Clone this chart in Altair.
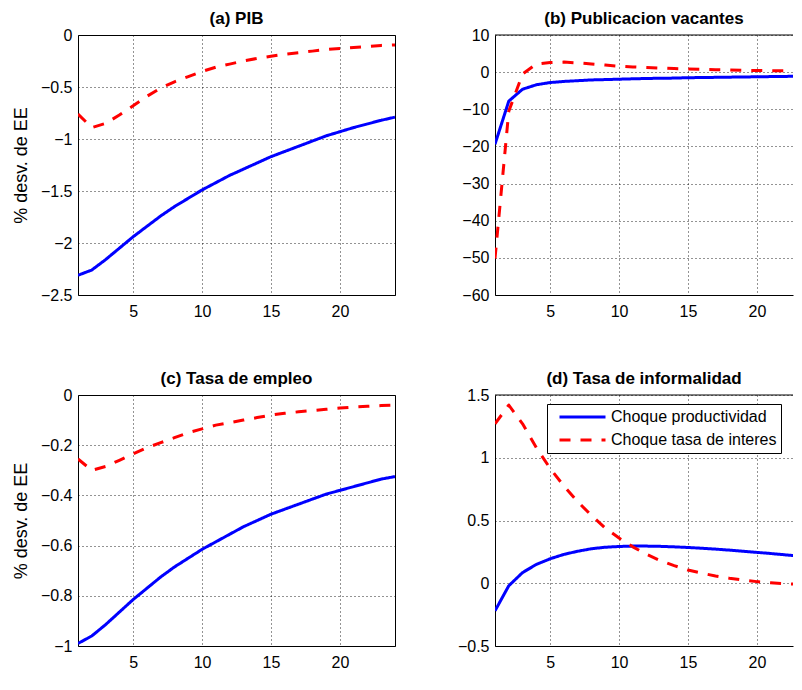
import altair as alt
import pandas as pd

FONT = "Liberation Sans"

periodos = list(range(1, 25))
series = ["Choque productividad", "Choque tasa de interes"]
colores = ["#0000ff", "#ff0000"]
dashes = [[1, 0], [11, 10]]

# (a) PIB
pib_prod = [-2.31, -2.26, -2.16, -2.05, -1.94, -1.84, -1.74, -1.65, -1.57, -1.49,
            -1.42, -1.35, -1.29, -1.23, -1.17, -1.12, -1.07, -1.02, -0.97, -0.93,
            -0.89, -0.855, -0.82, -0.79]
pib_tasa = [-0.76, -0.89, -0.85, -0.77, -0.68, -0.59, -0.51, -0.45, -0.40, -0.35,
            -0.31, -0.28, -0.25, -0.225, -0.205, -0.185, -0.17, -0.155, -0.14, -0.13,
            -0.12, -0.11, -0.10, -0.095]

# (b) Publicacion vacantes
vac_prod = [-19.4, -7.8, -4.6, -3.4, -2.8, -2.5, -2.3, -2.1, -2.0, -1.9,
            -1.8, -1.7, -1.65, -1.6, -1.5, -1.45, -1.4, -1.35, -1.3, -1.25,
            -1.2, -1.15, -1.1, -1.05]
vac_tasa = [-50.2, -10.5, -0.5, 2.2, 2.6, 2.7, 2.5, 2.2, 1.9, 1.6,
            1.4, 1.25, 1.1, 0.95, 0.85, 0.75, 0.65, 0.6, 0.5, 0.45,
            0.4, 0.35, 0.3, 0.25]

# (c) Tasa de empleo
emp_prod = [-0.99, -0.96, -0.915, -0.865, -0.815, -0.77, -0.725, -0.685, -0.65, -0.615,
            -0.585, -0.555, -0.525, -0.50, -0.475, -0.455, -0.435, -0.415, -0.395, -0.38,
            -0.365, -0.35, -0.335, -0.325]
emp_tasa = [-0.255, -0.30, -0.285, -0.26, -0.235, -0.21, -0.19, -0.17, -0.15, -0.135,
            -0.12, -0.11, -0.10, -0.09, -0.08, -0.073, -0.067, -0.062, -0.057, -0.052,
            -0.048, -0.045, -0.042, -0.04]

# (d) Tasa de informalidad
inf_prod = [-0.22, -0.02, 0.085, 0.15, 0.195, 0.23, 0.255, 0.275, 0.287, 0.293,
            0.296, 0.296, 0.294, 0.29, 0.285, 0.279, 0.272, 0.264, 0.255, 0.246,
            0.237, 0.227, 0.217, 0.205]
inf_tasa = [1.27, 1.42, 1.27, 1.08, 0.915, 0.775, 0.65, 0.54, 0.44, 0.36,
            0.29, 0.23, 0.18, 0.14, 0.105, 0.08, 0.058, 0.04, 0.025, 0.013,
            0.004, -0.003, -0.009, -0.014]

x_ticks = [5, 10, 15, 20]
y_ticks_a = [-2.5, -2, -1.5, -1, -0.5, 0]
y_ticks_b = [-60, -50, -40, -30, -20, -10, 0, 10]
y_ticks_c = [-1, -0.8, -0.6, -0.4, -0.2, 0]
y_ticks_d = [-0.5, 0, 0.5, 1, 1.5]

H_TOP = 260
H_BOTTOM = 251
W_LEFT = 317
PX_PER_UNIT = W_LEFT / 23.0
W_RIGHT = 298
XMAX_RIGHT = 1 + W_RIGHT / PX_PER_UNIT


def panel(title, prod, tasa, ydom, yvals, width, height, xmax, ytitle, legend, cut):
    n = len(periodos)
    df = pd.DataFrame({
        "t": periodos + periodos,
        "v": prod + tasa,
        "serie": [series[0]] * n + [series[1]] * n,
    })
    xaxis = alt.Axis(values=x_ticks, title=None, format="d", domain=cut,
                     labelPadding=8, ticks=False, grid=True)
    ykw = dict(values=yvals, format="~r", domain=cut, labelPadding=6,
               ticks=False, grid=True)
    if ytitle:
        yaxis = alt.Axis(title=ytitle, titleFontSize=18, titleFontWeight="normal",
                         titlePadding=10, **ykw)
    else:
        yaxis = alt.Axis(title=None, **ykw)
    lines = alt.Chart(df).mark_line(strokeWidth=3, clip=True, strokeJoin="round").encode(
        x=alt.X("t:Q", scale=alt.Scale(domain=[1, xmax], nice=False, zero=False), axis=xaxis),
        y=alt.Y("v:Q", scale=alt.Scale(domain=ydom, nice=False, zero=False), axis=yaxis),
        color=alt.Color("serie:N", scale=alt.Scale(domain=series, range=colores), legend=legend),
        strokeDash=alt.StrokeDash("serie:N", scale=alt.Scale(domain=series, range=dashes), legend=legend),
    )
    if cut:
        top = alt.Chart(pd.DataFrame({"k": [0]})).mark_rule(color="black", strokeWidth=1).encode(
            x=alt.value(0), x2=alt.value(width), y=alt.value(0))
        ch = alt.layer(lines, top).properties(view=alt.ViewBackground(stroke="transparent"))
    else:
        ch = lines
    return ch.properties(width=width, height=height, title=alt.Title(title))


legend_d = alt.Legend(title=None, orient="none", legendX=52, legendY=9,
                      fillColor="white", strokeColor="black", padding=4,
                      symbolType="stroke", symbolSize=2116, symbolStrokeWidth=3,
                      symbolOffset=7, labelFont=FONT, labelFontSize=16, labelOffset=4,
                      labelColor="black", labelLimit=400, clipHeight=18, rowPadding=5)

a = panel("(a) PIB", pib_prod, pib_tasa, [-2.5, 0], y_ticks_a, W_LEFT, H_TOP, 24,
          "% desv. de EE", None, False)
b = panel("(b) Publicacion vacantes", vac_prod, vac_tasa, [-60, 10], y_ticks_b, W_RIGHT, H_TOP,
          XMAX_RIGHT, None, None, True)
c = panel("(c) Tasa de empleo", emp_prod, emp_tasa, [-1, 0], y_ticks_c, W_LEFT, H_BOTTOM, 24,
          "% desv. de EE", None, False)
d = panel("(d) Tasa de informalidad", inf_prod, inf_tasa, [-0.5, 1.5], y_ticks_d, W_RIGHT, H_BOTTOM,
          XMAX_RIGHT, None, legend_d, True)

chart = alt.concat(a, b, c, d, columns=2, spacing={"row": 100, "column": 100},
                   bounds="flush", align="each").resolve_scale(
    color="independent", strokeDash="independent"
).properties(
    padding={"left": 3, "top": 1, "right": 0, "bottom": 0}
).configure_view(
    stroke="black", strokeWidth=1
).configure_axis(
    labelFont=FONT, labelFontSize=16, labelColor="black", titleFont=FONT, titleColor="black",
    gridColor="black", gridDash=[1, 3], gridOpacity=0.85, gridWidth=1,
    domainColor="black", domainWidth=1, labelFlush=False, labelOverlap=False
).configure_title(
    font=FONT, fontSize=17, fontWeight="bold", color="black", offset=-1, anchor="middle", frame="group"
)

chart.save("out.html", embed_options={"renderer": "svg", "actions": False})
